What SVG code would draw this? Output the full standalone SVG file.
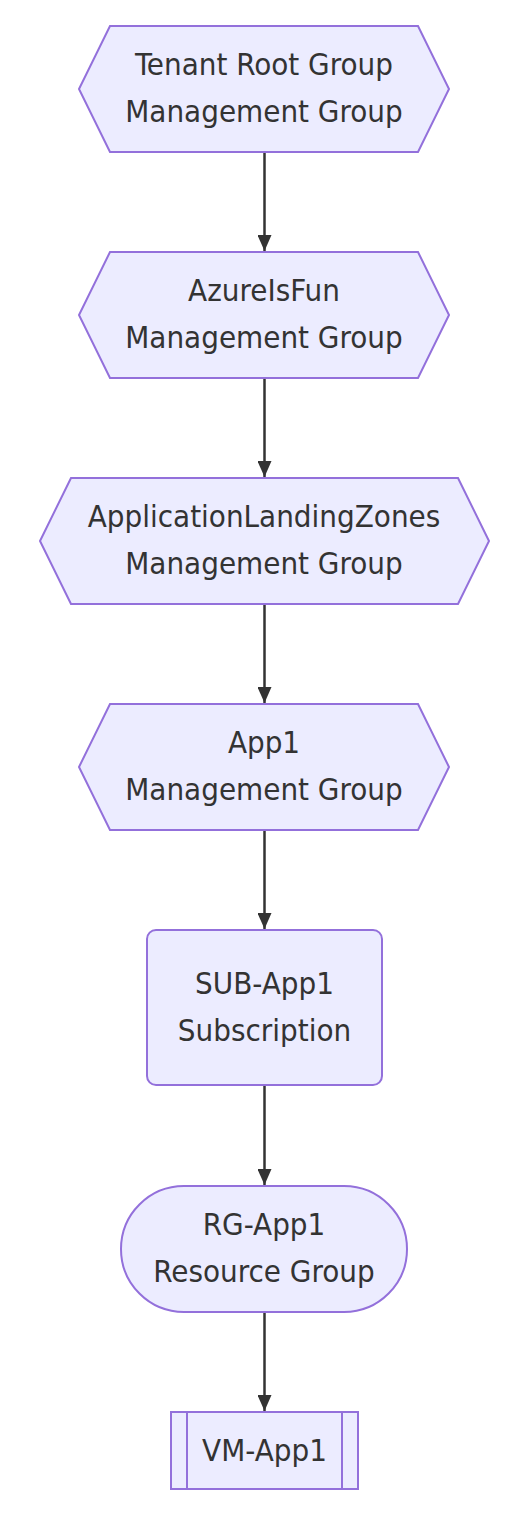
<svg xmlns="http://www.w3.org/2000/svg" width="532" height="1532" viewBox="0 0 532 1532">
<style>
.node{fill:#ECECFF;stroke:#9370DB;stroke-width:2}
.lbl{font-family:"DejaVu Sans Condensed","DejaVu Sans",Verdana,sans-serif;font-stretch:condensed;font-size:31px;fill:#333333;text-anchor:middle}
.edge{fill:none;stroke:#333333;stroke-width:2.5}
</style>
<defs>
<marker id="arrow" viewBox="0 0 16 14" refX="16" refY="7" markerWidth="16" markerHeight="14" markerUnits="userSpaceOnUse" orient="auto">
<path d="M0,0 L16,7 L0,14 z" fill="#333333"/>
</marker>
</defs>
<rect width="532" height="1532" fill="#ffffff"/>
<g id="connectors">
<path class="edge" d="M264.5,152 L264.5,251" marker-end="url(#arrow)"/>
<path class="edge" d="M264.5,378 L264.5,477" marker-end="url(#arrow)"/>
<path class="edge" d="M264.5,604 L264.5,703" marker-end="url(#arrow)"/>
<path class="edge" d="M264.5,830 L264.5,929" marker-end="url(#arrow)"/>
<path class="edge" d="M264.5,1086 L264.5,1185" marker-end="url(#arrow)"/>
<path class="edge" d="M264.5,1312 L264.5,1411" marker-end="url(#arrow)"/>
</g>
<g id="tenantRoot">
<polygon class="node" points="110,26 418,26 449,89 418,152 110,152 79,89"/>
<text class="lbl" x="264" y="75">Tenant Root Group</text>
<text class="lbl" x="264" y="122">Management Group</text>
</g>
<g id="azureIsFun">
<polygon class="node" points="110,252 418,252 449,315 418,378 110,378 79,315"/>
<text class="lbl" x="264" y="301">AzureIsFun</text>
<text class="lbl" x="264" y="348">Management Group</text>
</g>
<g id="appLandingZones">
<polygon class="node" points="71,478 458,478 489,541 458,604 71,604 40,541"/>
<text class="lbl" x="264" y="527">ApplicationLandingZones</text>
<text class="lbl" x="264" y="574">Management Group</text>
</g>
<g id="app1">
<polygon class="node" points="110,704 418,704 449,767 418,830 110,830 79,767"/>
<text class="lbl" x="264" y="753">App1</text>
<text class="lbl" x="264" y="800">Management Group</text>
</g>
<g id="subApp1">
<rect class="node" x="147" y="930" width="235" height="155" rx="9" ry="9"/>
<text class="lbl" x="264.5" y="994">SUB-App1</text>
<text class="lbl" x="264.5" y="1041">Subscription</text>
</g>
<g id="rgApp1">
<rect class="node" x="121" y="1186" width="286" height="126" rx="63" ry="63"/>
<text class="lbl" x="264" y="1235">RG-App1</text>
<text class="lbl" x="264" y="1282">Resource Group</text>
</g>
<g id="vmApp1">
<rect class="node" x="171" y="1412" width="187" height="77"/>
<line class="node" x1="187" y1="1412" x2="187" y2="1489"/>
<line class="node" x1="342" y1="1412" x2="342" y2="1489"/>
<text class="lbl" x="264.5" y="1461">VM-App1</text>
</g>
</svg>
